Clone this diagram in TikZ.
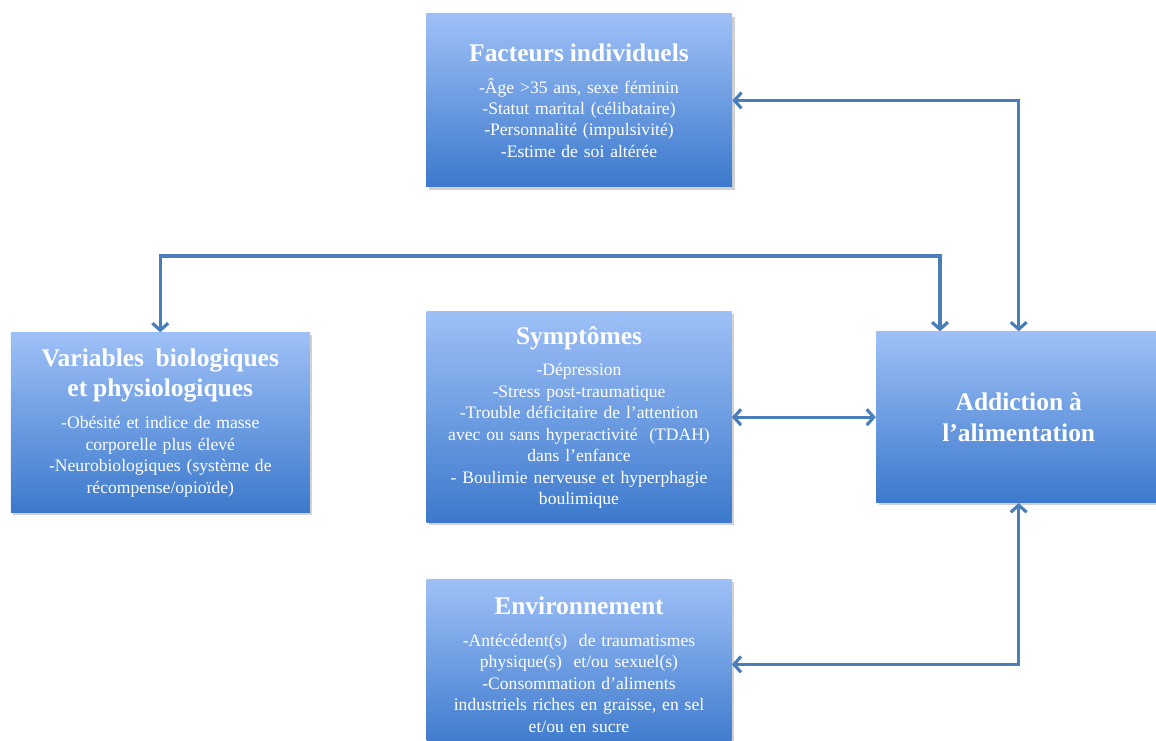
\documentclass[tikz,border=0pt]{standalone}
\usepackage{fontspec}
\setmainfont{Liberation Serif}
\usepackage{tikz}
\usetikzlibrary{positioning, arrows.meta, shadows, calc}
\definecolor{boxtop}{RGB}{158,192,247}
\definecolor{boxbottom}{RGB}{60,121,204}
\definecolor{linkblue}{RGB}{74,126,187}
\newcommand{\titlef}{\bfseries\fontsize{14.5}{17.6}\selectfont}
\newcommand{\bodyf}{\normalfont\fontsize{10}{12.2}\selectfont}

\begin{document}
\begin{tikzpicture}[
    node distance=1cm,
    box/.style={rectangle, top color=boxtop, bottom color=boxbottom, draw=none,
        text=white, align=center, inner sep=2pt,
        drop shadow={shadow xshift=1.5pt, shadow yshift=-1.5pt, opacity=0.3, fill=black!60}},
    link/.style={{Straight Barb[length=4pt,width=9pt]}-{Straight Barb[length=4pt,width=9pt]},
        line width=1.8pt, draw=linkblue}
]
    \useasboundingbox (0,0) rectangle (23.12,14.8);

    % Top box
    \node[box, minimum width=6.12cm, minimum height=3.46cm, text width=5.9cm] (fact) at (11.58,12.79)
        {\titlef Facteurs individuels\par\vspace{6pt}\bodyf
         -Âge >35 ans, sexe féminin\\-Statut marital (célibataire)\\-Personnalité (impulsivité)\\-Estime de soi altérée\par};

    % Middle row
    \node[box, below=2.48cm of fact, minimum width=6.1cm, minimum height=4.22cm, text width=5.9cm] (symp)
        {\titlef Symptômes\par\vspace{6pt}\bodyf
         -Dépression\\-Stress post-traumatique\\-Trouble déficitaire de l’attention\\avec ou sans hyperactivité\ \ (TDAH)\\dans l’enfance\\- Boulimie nerveuse et hyperphagie\\boulimique\par};
    \node[box, left=2.32cm of symp, yshift=-0.11cm, minimum width=5.98cm, minimum height=3.6cm, text width=5.8cm] (varb)
        {\titlef Variables\ \ biologiques\\et physiologiques\par\vspace{6pt}\bodyf
         -Obésité et indice de masse\\corporelle plus élevé\\-Neurobiologiques (système de\\récompense/opioïde)\par};
    \node[box, right=2.88cm of symp, minimum width=5.7cm, minimum height=3.42cm, text width=5.5cm] (addi)
        {\titlef Addiction à\\l’alimentation\par};

    % Bottom box
    \node[box, below=1.12cm of symp, minimum width=6.1cm, minimum height=3.4cm, text width=5.9cm] (env)
        {\titlef Environnement\par\vspace{6pt}\bodyf
         -Antécédent(s)\ \ de traumatismes\\physique(s)\ \ et/ou sexuel(s)\\-Consommation d’aliments\\industriels riches en graisse, en sel\\et/ou en sucre\par};

    % Arrows
    \coordinate (vjoin) at (18.8,9.68);
    \draw[link] (fact.east) -| (addi.north);
    \draw[link] (varb.north) |- (vjoin) -- (vjoin |- addi.north);
    \draw[link] (symp.east) -- (symp.east -| addi.west);
    \draw[link] (env.east) -| (addi.south);

\end{tikzpicture}
\end{document}
